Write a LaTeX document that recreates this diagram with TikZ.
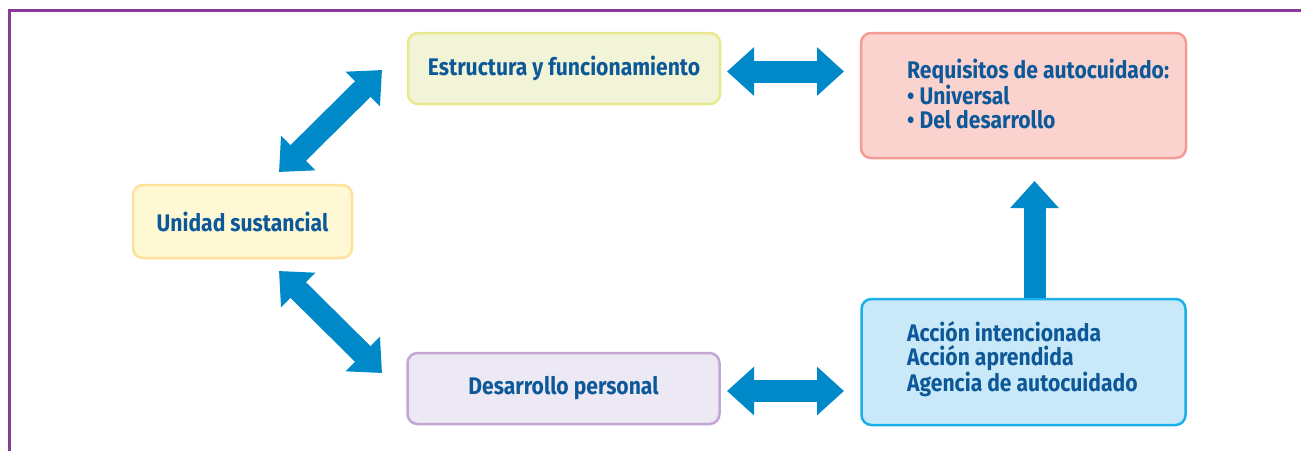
\documentclass[tikz,border=0pt]{standalone}
\usepackage{fontspec}
\newfontfamily\lab{Fira Sans}[FakeStretch=0.88]
\usetikzlibrary{arrows.meta}
\definecolor{txt}{RGB}{12,88,152}
\definecolor{arr}{RGB}{0,137,201}
\definecolor{frm}{RGB}{138,58,154}
\definecolor{eFill}{RGB}{241,244,214}
\definecolor{eLine}{RGB}{232,232,142}
\definecolor{rFill}{RGB}{251,211,206}
\definecolor{rLine}{RGB}{243,155,149}
\definecolor{uFill}{RGB}{255,248,213}
\definecolor{uLine}{RGB}{254,225,154}
\definecolor{dFill}{RGB}{236,232,244}
\definecolor{dLine}{RGB}{194,166,211}
\definecolor{aFill}{RGB}{201,233,249}
\definecolor{aLine}{RGB}{27,176,234}
\tikzset{
  box/.style={draw, rounded corners=10pt, line width=2.5pt, text=txt,
    font=\lab\bfseries\fontsize{24}{24}\selectfont, inner sep=0pt},
  txtl/.style={text=txt, align=left, inner sep=0pt,
    font=\lab\bfseries\fontsize{24}{24}\selectfont},
  fattip/.tip={Triangle[length=27pt 0 0,width=47pt 0 0]},
  fat/.style={draw=arr, line width=22pt},
}
\begin{document}
\begin{tikzpicture}[x=1pt,y=-1pt]
\useasboundingbox (0,0) rectangle (1301,451);
% frame
\draw[frm, line width=3pt] (9,451) -- (9,10.5) -- (1301,10.5);
% boxes
\node[box, draw=eLine, fill=eFill, minimum width=312pt, minimum height=71pt] (E) at (564,68.5) {Estructura y funcionamiento};
\node[box, draw=rLine, fill=rFill, minimum width=325pt, minimum height=125pt] (R) at (1023.5,95.5) {};
\node[box, draw=uLine, fill=uFill, minimum width=219pt, minimum height=73pt] (U) at (242.5,221.5) {Unidad sustancial};
\node[box, draw=dLine, fill=dFill, minimum width=312pt, minimum height=71pt] (D) at (563.5,388.5) {Desarrollo personal};
\node[box, draw=aLine, fill=aFill, minimum width=324pt, minimum height=126pt] (A) at (1023.5,362) {};
\node[txtl, anchor=west] (Rt) at (907,94) {Requisitos de autocuidado:\\\textbullet\ Universal\\\textbullet\ Del desarrollo};
\node[txtl, anchor=west] (At) at (907,359) {Acción intencionada\\Acción aprendida\\Agencia de autocuidado};
% arrow end points
\coordinate (e1) at (727,71.5);
\coordinate (r1) at (844,71.5);
\coordinate (d1) at (727,391);
\coordinate (a1) at (844,391);
\coordinate (u1) at (279,172);
\coordinate (e2) at (382,70);
\coordinate (u2) at (279,271);
\coordinate (d2) at (382,373);
\coordinate (rv) at (1034.5,181);
% arrows
\draw[fat, fattip-fattip] (e1) -- (r1);
\draw[fat, fattip-fattip] (d1) -- (a1);
\draw[fat, fattip-fattip] (u1) -- (e2);
\draw[fat, fattip-fattip] (u2) -- (d2);
\draw[fat, -fattip] ([xshift=11pt]A.north) -- (rv);
\end{tikzpicture}
\end{document}
